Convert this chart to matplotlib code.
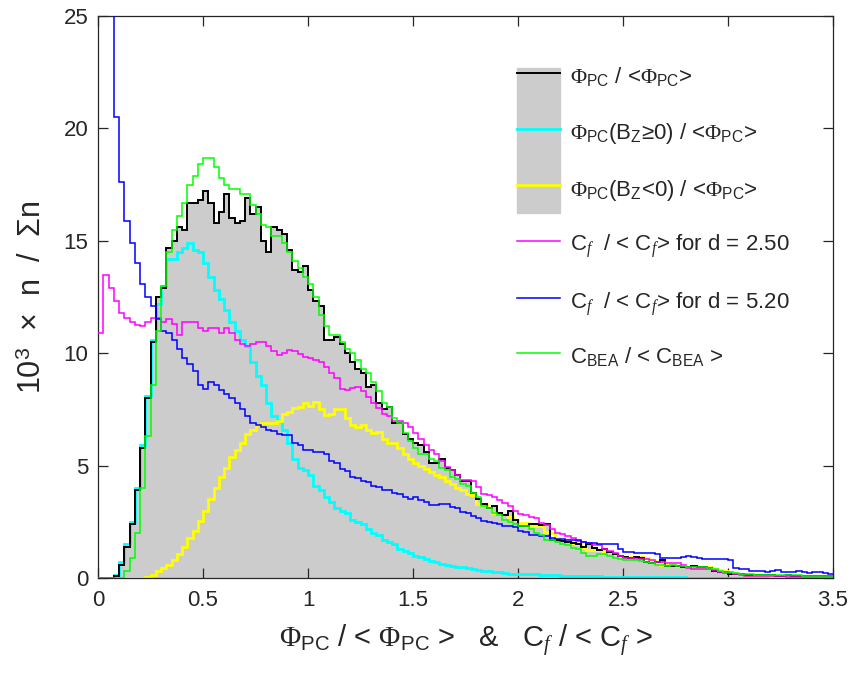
import numpy as np
import matplotlib
matplotlib.use('Agg')
import matplotlib.pyplot as plt
from matplotlib.patches import Rectangle

plt.rcParams['font.family'] = ['Liberation Sans Narrow', 'Liberation Sans', 'DejaVu Sans']
plt.rcParams['mathtext.fontset'] = 'custom'
plt.rcParams['mathtext.rm'] = 'Liberation Serif'
plt.rcParams['mathtext.it'] = 'Liberation Serif:italic'
plt.rcParams['mathtext.sf'] = 'Liberation Sans'

# histogram values (10^3 x n / sum n), bin width 0.025 from 0 to 3.5
bin_width = 0.025

phi_all = [0, 0, 0, 0.1, 0.6, 1.4, 2.4, 3.9, 5.8, 8.0,
           10.5, 12.5, 12.9, 14.7, 15.0, 15.6, 15.5, 16.7, 16.7, 16.8,
           17.2, 16.7, 15.8, 16.3, 17.1, 16.0, 15.8, 15.9, 16.9, 16.2,
           16.5, 15.0, 14.5, 15.6, 15.5, 15.3, 14.6, 13.7, 13.6, 13.9,
           12.8, 12.3, 12.1, 10.6, 10.6, 10.7, 10.4, 10.0, 9.6, 9.3,
           9.1, 8.5, 8.6, 7.8, 7.5, 7.6, 6.9, 6.9, 6.4, 6.2,
           6.0, 5.9, 5.6, 5.1, 5.1, 5.3, 4.9, 4.8, 4.6, 4.3,
           4.3, 3.8, 3.5, 3.3, 3.1, 3.2, 2.9, 2.8, 3.0, 2.6,
           2.3, 2.3, 2.4, 2.4, 2.35, 2.4, 1.7, 1.7, 1.65, 1.6,
           1.55, 1.5, 1.4, 1.5, 1.35, 1.25, 1.3, 1.15, 1.05, 1.0,
           0.95, 0.9, 0.95, 0.9, 0.7, 0.67, 0.7, 0.8, 0.55, 0.55,
           0.55, 0.5, 0.5, 0.55, 0.5, 0.5, 0.45, 0.3, 0.28, 0.25,
           0.2, 0.18, 0.2, 0.15, 0.15, 0.15, 0.12, 0.12, 0.15, 0.1,
           0.1, 0.12, 0.1, 0.1, 0.08, 0.1, 0.08, 0.08, 0.07, 0.07]

phi_bz_pos = [0, 0, 0, 0.15, 0.7, 1.5, 2.5, 4.0, 5.9, 8.1,
              10.6, 12.2, 13.0, 14.2, 14.2, 14.5, 14.7, 14.9, 14.6, 14.5,
              14.0, 13.4, 12.8, 12.4, 11.9, 11.4, 11.0, 10.6, 10.3, 9.6,
              9.0, 8.6, 7.8, 7.2, 7.0, 6.6, 6.0, 5.3, 4.9, 4.8,
              4.6, 4.1, 3.9, 3.6, 3.4, 3.1, 3.0, 2.9, 2.6, 2.5,
              2.4, 2.2, 2.0, 1.9, 1.7, 1.6, 1.5, 1.3, 1.2, 1.1,
              1.0, 0.95, 0.85, 0.75, 0.7, 0.62, 0.58, 0.55, 0.5, 0.48,
              0.45, 0.4, 0.37, 0.33, 0.3, 0.27, 0.25, 0.22, 0.2, 0.18,
              0.18, 0.2, 0.2, 0.18, 0.15, 0.15, 0.12, 0.12, 0.1, 0.1,
              0.1, 0.08, 0.08, 0.08, 0.07, 0.07, 0.06, 0.06, 0.05, 0.05,
              0.05, 0.05, 0.04, 0.04, 0.04, 0.04, 0.03, 0.03, 0.03, 0.03,
              0.03, 0.03, 0.02, 0.02, 0.02, 0.02, 0.02, 0.02, 0.02, 0.02,
              0.02, 0.01, 0.02, 0.01, 0.01, 0.01, 0.01, 0.01, 0.01, 0.01,
              0.01, 0.01, 0.01, 0.01, 0.01, 0.01, 0.01, 0.01, 0.01, 0.01]

phi_bz_neg = [0, 0, 0, 0, 0, 0, 0, 0, 0.02, 0.05,
              0.13, 0.3, 0.45, 0.6, 0.8, 1.05, 1.4, 1.8, 2.1, 2.55,
              3.0, 3.5, 4.0, 4.5, 4.9, 5.4, 5.7, 6.0, 6.4, 6.6,
              6.8, 6.9, 6.9, 6.9, 7.0, 7.3, 7.4, 7.55, 7.6, 7.8,
              7.65, 7.85, 7.5, 7.25, 7.3, 7.5, 7.5, 7.1, 6.8, 6.7,
              6.8, 6.6, 6.45, 6.5, 6.2, 6.0, 6.0, 5.8, 5.5, 5.3,
              5.1, 5.0, 4.85, 4.7, 4.6, 4.5, 4.3, 4.2, 4.0, 3.9,
              3.75, 3.7, 3.3, 3.25, 3.1, 2.9, 2.9, 2.85, 2.7, 2.6,
              2.45, 2.45, 2.3, 2.3, 2.3, 2.05, 2.0, 1.8, 1.7, 1.7,
              1.55, 1.5, 1.35, 1.25, 1.25, 1.25, 1.2, 1.15, 1.05, 1.0,
              0.95, 0.95, 0.95, 0.92, 0.9, 0.75, 0.62, 0.6, 0.58, 0.58,
              0.55, 0.52, 0.5, 0.52, 0.5, 0.5, 0.48, 0.4, 0.35, 0.3,
              0.25, 0.2, 0.18, 0.15, 0.15, 0.13, 0.12, 0.12, 0.1, 0.1,
              0.1, 0.1, 0.08, 0.08, 0.08, 0.07, 0.07, 0.06, 0.06, 0.06]

cf_d250 = [10.9, 13.5, 12.9, 12.3, 11.8, 11.55, 11.4, 11.25, 11.2, 11.4,
           11.55, 11.55, 11.4, 11.5, 11.3, 10.8, 11.4, 11.4, 11.4, 11.1,
           11.0, 11.1, 11.1, 10.9, 11.1, 10.9, 10.6, 10.4, 10.3, 10.4,
           10.5, 10.5, 10.3, 10.1, 9.9, 10.0, 10.15, 10.1, 9.95, 9.85,
           9.8, 9.7, 9.6, 9.4, 9.1, 8.9, 8.4, 8.35, 8.45, 8.5,
           8.3, 8.05, 7.8, 7.55, 7.3, 7.2, 7.0, 7.0, 6.9, 6.7,
           6.45, 6.2, 5.9, 5.7, 5.5, 5.2, 4.95, 4.8, 4.6, 4.35,
           4.35, 4.3, 4.05, 3.75, 3.7, 3.6, 3.45, 3.35, 3.2, 3.0,
           2.85, 2.8, 2.7, 2.65, 2.45, 2.35, 2.2, 2.0, 1.95, 1.85,
           1.8, 1.65, 1.6, 1.55, 1.45, 1.45, 1.3, 1.2, 1.1, 1.0,
           0.9, 0.9, 0.85, 0.85, 0.85, 0.8, 0.72, 0.7, 0.68, 0.68,
           0.65, 0.6, 0.45, 0.42, 0.4, 0.4, 0.4, 0.35, 0.25, 0.22,
           0.22, 0.2, 0.12, 0.1, 0.1, 0.08, 0.08, 0.08, 0.07, 0.07,
           0.08, 0.06, 0.06, 0.05, 0.05, 0.05, 0.05, 0.04, 0.04, 0.04]

cf_d520 = [45, 35, 28, 20.5, 17.6, 15.9, 14.9, 14.0, 13.1, 12.5,
           12.1, 11.5, 11.0, 10.9, 10.6, 10.2, 9.8, 9.5, 9.2, 8.6,
           8.4, 8.7, 8.6, 8.35, 8.2, 8.0, 7.8, 7.5, 7.2, 6.9,
           6.8, 6.7, 6.6, 6.55, 6.4, 6.35, 6.35, 6.0, 5.9, 5.7,
           5.7, 5.6, 5.6, 5.5, 5.2, 5.1, 4.85, 4.75, 4.5, 4.45,
           4.3, 4.25, 4.1, 4.05, 3.9, 3.9, 3.8, 3.75, 3.6, 3.5,
           3.6, 3.45, 3.4, 3.25, 3.25, 3.3, 3.3, 3.15, 3.1, 2.95,
           2.9, 2.75, 2.65, 2.55, 2.5, 2.45, 2.4, 2.3, 2.3, 2.25,
           2.1, 2.05, 1.9, 1.9, 1.85, 1.85, 1.8, 1.75, 1.75, 1.7,
           1.7, 1.7, 1.6, 1.55, 1.55, 1.5, 1.5, 1.5, 1.5, 1.3,
           1.15, 1.15, 1.1, 1.1, 1.1, 1.1, 1.05, 0.9, 0.9, 0.9,
           0.9, 0.95, 1.0, 0.95, 0.9, 0.85, 0.85, 0.85, 0.85, 0.85,
           0.8, 0.45, 0.4, 0.38, 0.3, 0.3, 0.32, 0.28, 0.3, 0.35,
           0.25, 0.28, 0.25, 0.3, 0.25, 0.22, 0.28, 0.25, 0.22, 0.2]

c_bea = [0, 0, 0, 0, 0, 0.3, 0.9, 2.0, 4.0, 6.3,
         8.6, 11.0, 13.0, 14.5, 15.5, 16.1, 16.7, 17.5, 17.9, 18.4,
         18.7, 18.7, 18.3, 17.8, 17.5, 17.3, 17.3, 17.1, 17.1, 16.6,
         16.2, 15.7, 15.6, 15.2, 15.2, 14.9, 14.5, 14.1, 13.8, 13.4,
         13.1, 12.5, 11.7, 11.2, 10.8, 10.8, 10.5, 10.2, 10.0, 9.7,
         9.3, 9.1, 8.7, 8.3, 7.8, 7.6, 7.1, 6.9, 6.45, 6.1,
         5.8, 5.5, 5.5, 5.3, 5.2, 4.9, 4.8, 4.5, 4.4, 4.2,
         4.1, 3.8, 3.6, 3.2, 3.1, 2.9, 2.8, 2.6, 2.5, 2.4,
         2.3, 2.3, 2.2, 2.0, 1.9, 1.7, 1.7, 1.6, 1.5, 1.45,
         1.35, 1.3, 1.1, 1.0, 1.0, 1.05, 1.05, 1.0, 0.9, 0.85,
         0.8, 0.8, 0.78, 0.75, 0.7, 0.65, 0.6, 0.58, 0.55, 0.58,
         0.55, 0.52, 0.5, 0.5, 0.48, 0.5, 0.45, 0.4, 0.3, 0.27,
         0.25, 0.22, 0.2, 0.18, 0.17, 0.15, 0.15, 0.15, 0.14, 0.13,
         0.13, 0.12, 0.12, 0.12, 0.1, 0.1, 0.1, 0.1, 0.1, 0.1]

x_ticks = [0, 0.5, 1, 1.5, 2, 2.5, 3, 3.5]
x_tick_labels = ['0', '0.5', '1', '1.5', '2', '2.5', '3', '3.5']
y_ticks = [0, 5, 10, 15, 20, 25]


def edges(vals):
    return np.arange(len(vals) + 1) * bin_width


fig = plt.figure(figsize=(8.59, 6.75), dpi=100)
ax = fig.add_axes([98 / 859, 1 - 578 / 675, 735 / 859, 562 / 675])

# gray area for the full distribution
ax.stairs(phi_all, edges(phi_all), fill=True, color='#cccccc', baseline=0, zorder=1)
ax.stairs(phi_all, edges(phi_all), color='black', lw=1.4, baseline=None, zorder=3)
ax.stairs(phi_bz_pos, edges(phi_bz_pos), color='#00ffff', lw=2.0, baseline=None, zorder=2)
ax.stairs(phi_bz_neg, edges(phi_bz_neg), color='#ffff00', lw=2.0, baseline=None, zorder=2)
ax.stairs(cf_d250, edges(cf_d250), color='#ff00ff', lw=1.1, baseline=None, zorder=4)
ax.stairs(cf_d520, edges(cf_d520), color='#0000ff', lw=1.1, baseline=None, zorder=4)
ax.stairs(c_bea, edges(c_bea), color='#00ff00', lw=1.1, baseline=None, zorder=4)

ax.set_xlim(0, 3.5)
ax.set_ylim(0, 25)
ax.set_xticks(x_ticks)
ax.set_xticklabels(x_tick_labels)
ax.set_yticks(y_ticks)

axis_col = '#262626'
for sp in ax.spines.values():
    sp.set_color(axis_col)
    sp.set_linewidth(0.9)
ax.tick_params(direction='in', length=7, width=0.9, top=True, right=True,
               labelsize=16, colors=axis_col)
ax.tick_params(axis='x', pad=9)
ax.tick_params(axis='y', pad=7)

ax.set_xlabel(r'$\mathrm{\Phi}_{\mathsf{PC}}$ / < $\mathrm{\Phi}_{\mathsf{PC}}$ >   &   C$_{\mathit{f}}$ / < C$_{\mathit{f}}$ >',
              fontsize=21, color=axis_col)
ax.xaxis.set_label_coords(0.5, -0.08)
ax.set_ylabel(r'10$^{\mathsf{3}}$  ×  n  /  Σn', fontsize=22, color=axis_col)
ax.yaxis.set_label_coords(-0.068, 0.5)

# hand-made legend (figure pixel positions)
def fx(px):
    return px / 859


def fy(py):
    return 1 - py / 675


leg_font = ['Liberation Sans', 'DejaVu Sans']
fig.patches.append(Rectangle((fx(517), fy(213)), fx(560) - fx(517), fy(68) - fy(213),
                             transform=fig.transFigure, color='#cccccc', zorder=5))
legend_items = [
    ('black', 1.4, 73, r'$\mathrm{\Phi}_{\mathsf{PC}}$ / <$\mathrm{\Phi}_{\mathsf{PC}}$>'),
    ('#00ffff', 2.0, 129, r'$\mathrm{\Phi}_{\mathsf{PC}}$(B$_{\mathsf{Z}}$≥0) / <$\mathrm{\Phi}_{\mathsf{PC}}$>'),
    ('#ffff00', 2.0, 185, r'$\mathrm{\Phi}_{\mathsf{PC}}$(B$_{\mathsf{Z}}$<0) / <$\mathrm{\Phi}_{\mathsf{PC}}$>'),
    ('#ff00ff', 1.1, 241, r'C$_{\mathit{f}}$  / < C$_{\mathit{f}}$> for d = 2.50'),
    ('#0000ff', 1.1, 298, r'C$_{\mathit{f}}$  / < C$_{\mathit{f}}$> for d = 5.20'),
    ('#00ff00', 1.1, 353, r'C$_{\mathsf{BEA}}$ / < C$_{\mathsf{BEA}}$ >'),
]
for col, lw, py, label in legend_items:
    fig.add_artist(plt.Line2D([fx(517), fx(560)], [fy(py), fy(py)], color=col, lw=lw,
                              transform=fig.transFigure, zorder=6))
    fig.text(fx(570), fy(py + 10.5), label, fontsize=16, family=leg_font,
             color=axis_col, va='baseline', ha='left', zorder=6)

fig.savefig('out.png', dpi=100)
